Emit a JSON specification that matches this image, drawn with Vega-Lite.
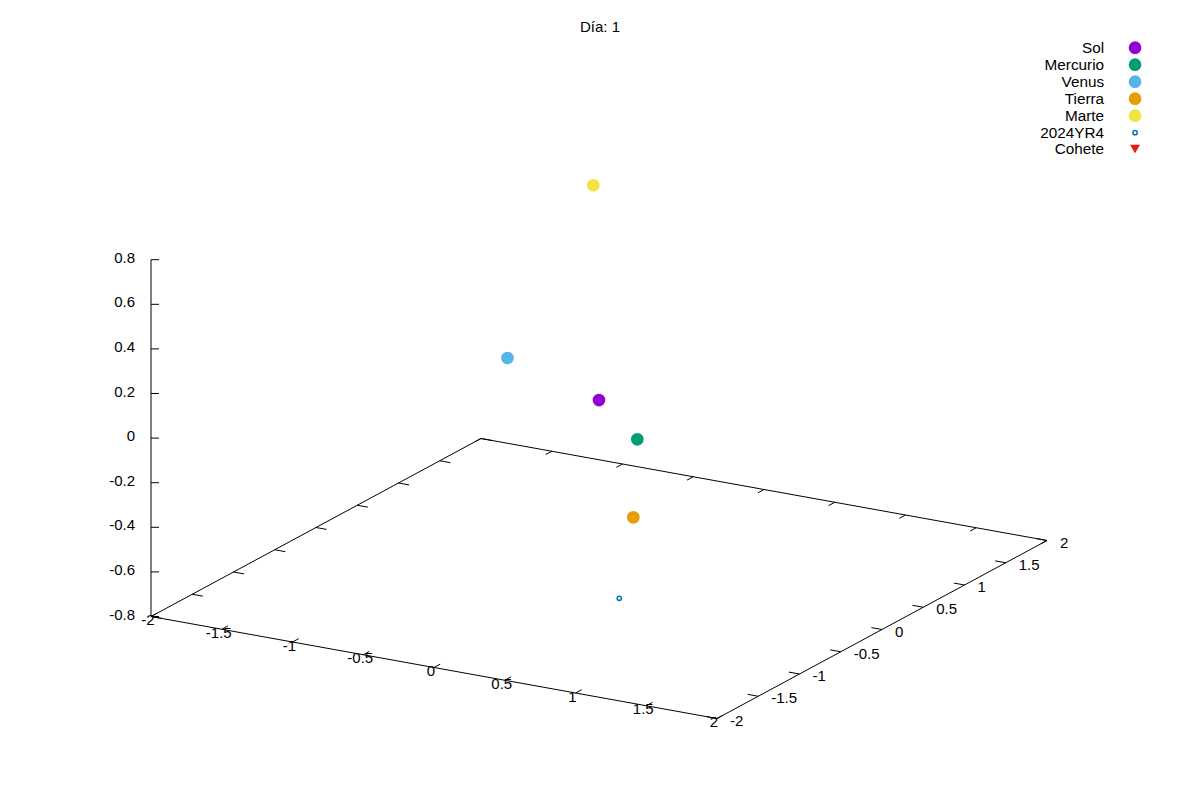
{
  "$schema": "https://vega.github.io/schema/vega-lite/v6.json",
  "width": 1200,
  "height": 800,
  "autosize": "none",
  "padding": 0,
  "background": "white",
  "title": {"text": "Día: 1", "font": "Liberation Sans", "fontSize": 15, "fontWeight": "normal", "color": "black", "anchor": "middle", "frame": "group", "offset": 0, "baseline": "middle", "dy": 42},
  "config": {
    "view": {"stroke": null},
    "font": "Liberation Sans",
    "legend": {
      "orient": "none",
      "legendX": 1127.4,
      "legendY": 40,
      "padding": 0,
      "rowPadding": -5,
      "labelFont": "Liberation Sans",
      "labelFontSize": 15.3,
      "labelColor": "black",
      "labelAlign": "right",
      "labelOffset": -38.6,
      "labelLimit": 0,
      "symbolOffset": 0,
      "symbolStrokeWidth": 1.5
    }
  },
  "datasets": {
    "frame": [
      {"edge": "base", "i": 0, "X": -2, "Y": -2, "Z": -0.8},
      {"edge": "base", "i": 1, "X": 2, "Y": -2, "Z": -0.8},
      {"edge": "base", "i": 2, "X": 2, "Y": 2, "Z": -0.8},
      {"edge": "base", "i": 3, "X": -2, "Y": 2, "Z": -0.8},
      {"edge": "base", "i": 4, "X": -2, "Y": -2, "Z": -0.8},
      {"edge": "zaxis", "i": 0, "X": -2, "Y": -2, "Z": -0.8},
      {"edge": "zaxis", "i": 1, "X": -2, "Y": -2, "Z": 0.8}
    ],
    "ticks": [
      {"a": "xf", "v": -2}, {"a": "xf", "v": -1.5}, {"a": "xf", "v": -1}, {"a": "xf", "v": -0.5}, {"a": "xf", "v": 0}, {"a": "xf", "v": 0.5}, {"a": "xf", "v": 1}, {"a": "xf", "v": 1.5}, {"a": "xf", "v": 2},
      {"a": "xb", "v": -2}, {"a": "xb", "v": -1.5}, {"a": "xb", "v": -1}, {"a": "xb", "v": -0.5}, {"a": "xb", "v": 0}, {"a": "xb", "v": 0.5}, {"a": "xb", "v": 1}, {"a": "xb", "v": 1.5}, {"a": "xb", "v": 2},
      {"a": "yr", "v": -2}, {"a": "yr", "v": -1.5}, {"a": "yr", "v": -1}, {"a": "yr", "v": -0.5}, {"a": "yr", "v": 0}, {"a": "yr", "v": 0.5}, {"a": "yr", "v": 1}, {"a": "yr", "v": 1.5}, {"a": "yr", "v": 2},
      {"a": "yl", "v": -2}, {"a": "yl", "v": -1.5}, {"a": "yl", "v": -1}, {"a": "yl", "v": -0.5}, {"a": "yl", "v": 0}, {"a": "yl", "v": 0.5}, {"a": "yl", "v": 1}, {"a": "yl", "v": 1.5}, {"a": "yl", "v": 2},
      {"a": "z", "v": -0.8}, {"a": "z", "v": -0.6}, {"a": "z", "v": -0.4}, {"a": "z", "v": -0.2}, {"a": "z", "v": 0}, {"a": "z", "v": 0.2}, {"a": "z", "v": 0.4}, {"a": "z", "v": 0.6}, {"a": "z", "v": 0.8}
    ],
    "labels": [
      {"a": "x", "v": -2}, {"a": "x", "v": -1.5}, {"a": "x", "v": -1}, {"a": "x", "v": -0.5}, {"a": "x", "v": 0}, {"a": "x", "v": 0.5}, {"a": "x", "v": 1}, {"a": "x", "v": 1.5}, {"a": "x", "v": 2},
      {"a": "y", "v": -2}, {"a": "y", "v": -1.5}, {"a": "y", "v": -1}, {"a": "y", "v": -0.5}, {"a": "y", "v": 0}, {"a": "y", "v": 0.5}, {"a": "y", "v": 1}, {"a": "y", "v": 1.5}, {"a": "y", "v": 2},
      {"a": "z", "v": -0.8}, {"a": "z", "v": -0.6}, {"a": "z", "v": -0.4}, {"a": "z", "v": -0.2}, {"a": "z", "v": 0}, {"a": "z", "v": 0.2}, {"a": "z", "v": 0.4}, {"a": "z", "v": 0.6}, {"a": "z", "v": 0.8}
    ],
    "bodies": [
      {"name": "Sol", "X": 0, "Y": 0, "Z": 0},
      {"name": "Mercurio", "X": 0.588, "Y": -0.544, "Z": 0},
      {"name": "Venus", "X": -0.898, "Y": 0.431, "Z": 0},
      {"name": "Tierra", "X": 0.895, "Y": -1.119, "Z": -0.2},
      {"name": "Marte", "X": -1.045, "Y": 1.723, "Z": 0.5},
      {"name": "2024YR4", "X": 0.959, "Y": -1.399, "Z": -0.5}
    ]
  },
  "encoding": {
    "x": {"field": "px", "type": "quantitative", "scale": {"domain": [-599, 601], "nice": false, "zero": false}, "axis": null},
    "y": {"field": "qy", "type": "quantitative", "scale": {"domain": [-221.5, 578.5], "nice": false, "zero": false}, "axis": null}
  },
  "layer": [
    {
      "data": {"name": "frame"},
      "transform": [
        {"calculate": "141.5*datum.X+82.5*datum.Y", "as": "px"},
        {"calculate": "-25.5*datum.X+44.5*datum.Y+223*(datum.Z+0.8)", "as": "qy"}
      ],
      "mark": {"type": "line", "color": "black", "strokeWidth": 1},
      "encoding": {
        "detail": {"field": "edge", "type": "nominal"},
        "order": {"field": "i", "type": "quantitative"}
      }
    },
    {
      "data": {"name": "ticks"},
      "transform": [
        {"calculate": "datum.a=='xf'||datum.a=='xb' ? datum.v : (datum.a=='yr' ? 2 : -2)", "as": "X0"},
        {"calculate": "datum.a=='xf' ? -2 : (datum.a=='xb' ? 2 : (datum.a=='z' ? -2 : datum.v))", "as": "Y0"},
        {"calculate": "datum.a=='z' ? datum.v : -0.8", "as": "Z0"},
        {"calculate": "datum.a=='yr' ? 1.925 : (datum.a=='yl' ? -1.925 : datum.X0)", "as": "X1"},
        {"calculate": "datum.a=='xf' ? -1.925 : (datum.a=='xb' ? 1.925 : datum.Y0)", "as": "Y1"},
        {"calculate": "141.5*datum.X0+82.5*datum.Y0", "as": "px"},
        {"calculate": "-25.5*datum.X0+44.5*datum.Y0+223*(datum.Z0+0.8)", "as": "qy"},
        {"calculate": "141.5*datum.X1+82.5*datum.Y1+(datum.a=='z' ? 8 : 0)", "as": "px2"},
        {"calculate": "-25.5*datum.X1+44.5*datum.Y1+223*(datum.Z0+0.8)", "as": "qy2"}
      ],
      "mark": {"type": "rule", "color": "black", "strokeWidth": 1},
      "encoding": {
        "x2": {"field": "px2"},
        "y2": {"field": "qy2"}
      }
    },
    {
      "data": {"name": "labels"},
      "transform": [
        {"filter": "datum.a=='x'"},
        {"calculate": "141.5*datum.v+82.5*(-2)", "as": "px"},
        {"calculate": "-25.5*datum.v+44.5*(-2)", "as": "qy"}
      ],
      "mark": {"type": "text", "align": "center", "baseline": "middle", "dx": -3, "dy": 3.5, "font": "Liberation Sans", "fontSize": 15, "color": "black"},
      "encoding": {"text": {"field": "v", "type": "nominal"}}
    },
    {
      "data": {"name": "labels"},
      "transform": [
        {"filter": "datum.a=='y'"},
        {"calculate": "141.5*2+82.5*datum.v", "as": "px"},
        {"calculate": "-25.5*2+44.5*datum.v", "as": "qy"}
      ],
      "mark": {"type": "text", "align": "left", "baseline": "middle", "dx": 13, "dy": 2, "font": "Liberation Sans", "fontSize": 15, "color": "black"},
      "encoding": {"text": {"field": "v", "type": "nominal"}}
    },
    {
      "data": {"name": "labels"},
      "transform": [
        {"filter": "datum.a=='z'"},
        {"calculate": "141.5*(-2)+82.5*(-2)", "as": "px"},
        {"calculate": "-25.5*(-2)+44.5*(-2)+223*(datum.v+0.8)", "as": "qy"}
      ],
      "mark": {"type": "text", "align": "right", "baseline": "middle", "dx": -16, "dy": -2, "font": "Liberation Sans", "fontSize": 15, "color": "black"},
      "encoding": {"text": {"field": "v", "type": "nominal"}}
    },
    {
      "data": {"name": "bodies"},
      "transform": [
        {"calculate": "141.5*datum.X+82.5*datum.Y", "as": "px"},
        {"calculate": "-25.5*datum.X+44.5*datum.Y+223*(datum.Z+0.8)", "as": "qy"}
      ],
      "mark": {"type": "point", "filled": true, "strokeWidth": 1.5, "opacity": 1},
      "encoding": {
        "fill": {"field": "name", "type": "nominal", "title": null,
          "scale": {"domain": ["Sol", "Mercurio", "Venus", "Tierra", "Marte", "2024YR4", "Cohete"],
                    "range": ["#9400d3", "#009e73", "#56b4e9", "#e69f00", "#f0e442", "#ffffff", "#e51e10"]}},
        "stroke": {"field": "name", "type": "nominal", "title": null,
          "scale": {"domain": ["Sol", "Mercurio", "Venus", "Tierra", "Marte", "2024YR4", "Cohete"],
                    "range": ["#9400d3", "#009e73", "#56b4e9", "#e69f00", "#f0e442", "#0072b2", "#e51e10"]}},
        "shape": {"field": "name", "type": "nominal", "title": null,
          "scale": {"domain": ["Sol", "Mercurio", "Venus", "Tierra", "Marte", "2024YR4", "Cohete"],
                    "range": ["circle", "circle", "circle", "circle", "circle", "circle", "triangle-down"]}},
        "size": {"field": "name", "type": "nominal", "title": null,
          "scale": {"type": "ordinal", "domain": ["Sol", "Mercurio", "Venus", "Tierra", "Marte", "2024YR4", "Cohete"],
                    "range": [125, 125, 125, 125, 125, 18, 55]}}
      }
    }
  ]
}
